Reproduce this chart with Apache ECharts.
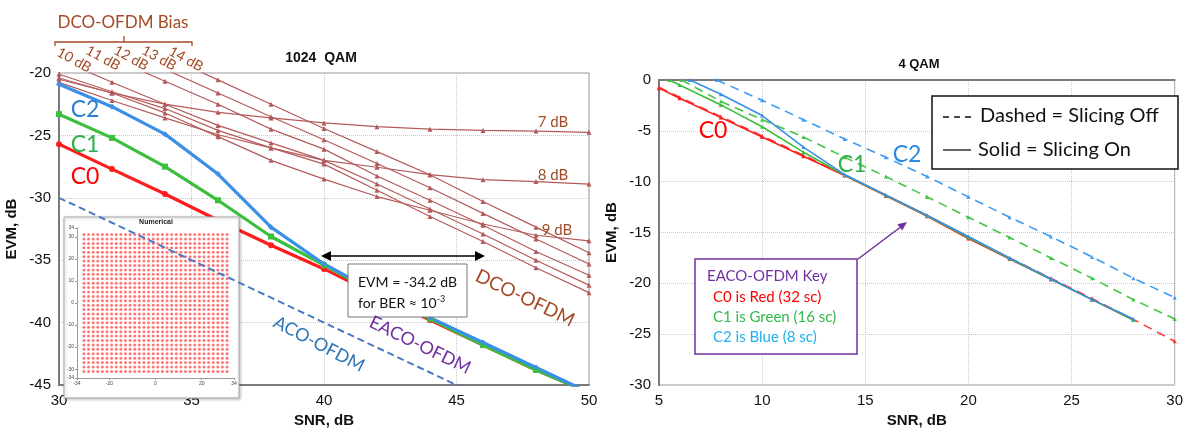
<!DOCTYPE html>
<html>
<head>
<meta charset="utf-8">
<script src="https://cdn.jsdelivr.net/npm/echarts@6/dist/echarts.min.js"></script>
<style>
html, body { margin: 0; padding: 0; background: #fff; }
#chart { width: 1186px; height: 433px; }
</style>
</head>
<body>
<div id="chart"></div>
<script>
// ---- left panel: 1024 QAM ----
const snrLeft = [30, 32, 34, 36, 38, 40, 42, 44, 46, 48, 50]
const eacoC0 = [-25.7, -27.7, -29.7, -31.8, -33.8, -35.7, -37.8, -39.8, -41.8, -43.8, -45.6]
const eacoC1 = [-23.3, -25.2, -27.5, -30.2, -33.1, -35.4, -37.7, -39.7, -41.8, -43.8, -45.6]
const eacoC2 = [-20.9, -22.7, -24.9, -28.1, -32.35, -35.3, -37.6, -39.6, -41.6, -43.6, -45.6]
const acoOfdm = [-30, -32, -34, -36, -38, -40, -42, -44, -46, -48, -50]
const dco7 = [-20.5, -21.6, -22.5, -23.15, -23.6, -24.0, -24.3, -24.5, -24.6, -24.65, -24.75]
const dco8 = [-20.75, -22.2, -23.6, -24.95, -26.0, -27.0, -27.55, -28.15, -28.55, -28.7, -28.9]
const dco9 = [-20.4, -21.6, -23.2, -25.1, -27.0, -28.5, -29.9, -31.0, -32.1, -33.0, -33.45]
const dco10 = [-20.1, -21.5, -22.85, -24.6, -26.0, -27.3, -29.4, -31.5, -33.5, -35.6, -37.6]
const dco11 = [-18.9, -20.74, -22.5, -24.2, -25.6, -27.0, -28.9, -30.9, -32.9, -35.0, -37.0]
const dco12 = [-17.0, -18.8, -20.66, -22.5, -24.5, -26.1, -28.25, -30.2, -32.2, -34.3, -36.2]
const dco13 = [-15.9, -17.8, -19.7, -21.6, -23.5, -25.35, -27.25, -29.2, -31.25, -33.3, -35.3]
const dco14 = [-14.8, -16.7, -18.6, -20.55, -22.5, -24.45, -26.3, -28.15, -30.3, -32.35, -34.4]
const biasLabels = ['10 dB', '11 dB', '12 dB', '13 dB', '14 dB']

// inset constellation levels (1024 QAM, 32 x 32)
const qamLevels = [-31, -29, -27, -25, -23, -21, -19, -17, -15, -13, -11, -9, -7, -5, -3, -1,
  1, 3, 5, 7, 9, 11, 13, 15, 17, 19, 21, 23, 25, 27, 29, 31]

// ---- right panel: 4 QAM ----
const c0Solid4 = [[5, -0.8], [6, -1.8], [8, -3.7], [10, -5.6], [12, -7.5], [14, -9.4], [16, -11.4], [18, -13.4], [20, -15.6], [22, -17.6], [24, -19.6], [26, -21.6], [28, -23.6]]
const c0Dash4 = [[5, -0.7], [6, -1.7], [8, -3.6], [10, -5.5], [12, -7.4], [14, -9.35], [16, -11.35], [18, -13.35], [20, -15.5], [22, -17.5], [24, -19.5], [26, -21.5], [28, -23.55], [30, -25.7]]
const c1Solid4 = [[5.5, 0], [6, -0.5], [8, -2.45], [10, -4.6], [12, -7.1], [14, -9.35], [16, -11.35], [18, -13.35], [20, -15.5], [22, -17.55], [24, -19.6], [26, -21.6], [28, -23.6]]
const c1Dash4 = [[6.1, 0], [8, -2.1], [10, -3.9], [12, -5.6], [14, -7.6], [16, -9.5], [18, -11.5], [20, -13.5], [22, -15.5], [24, -17.5], [26, -19.5], [28, -21.6], [30, -23.5]]
const c2Solid4 = [[6.5, 0], [8, -1.4], [10, -3.5], [12, -6.6], [14, -9.3], [16, -11.3], [18, -13.3], [20, -15.4], [22, -17.5], [24, -19.55], [26, -21.6], [28, -23.5]]
const c2Dash4 = [[7.8, 0], [10, -2.0], [12, -3.9], [14, -5.8], [16, -7.6], [18, -9.5], [20, -11.5], [22, -13.5], [24, -15.4], [26, -17.4], [28, -19.5], [30, -21.4]]

const RED = '#ff1c1c'
const GREEN = '#3cbf3c'
const BLUE = '#3a8fe6'
const BROWN_LINE = '#b45a5a'
const BROWN_TEXT = '#a34a26'
const PURPLE = '#7030a0'
const ARIAL = 'Liberation Sans, Arial, sans-serif'
const CAL = 'Lato, Noto Sans, sans-serif'

function pairs(xs, ys) {
  return xs.map((x, i) => [x, ys[i]])
}

let constellation = []
qamLevels.forEach(i => {
  qamLevels.forEach(q => constellation.push([i, q]))
})

function dcoSeries(name, ys) {
  return {
    name: name,
    type: 'line',
    xAxisIndex: 0,
    yAxisIndex: 0,
    data: pairs(snrLeft, ys),
    symbol: 'triangle',
    symbolSize: 5,
    lineStyle: { color: BROWN_LINE, width: 1.2 },
    itemStyle: { color: BROWN_LINE },
    z: 2,
    silent: true
  }
}

function eacoSeries(name, ys, color, symbol) {
  return {
    name: name,
    type: 'line',
    xAxisIndex: 0,
    yAxisIndex: 0,
    data: pairs(snrLeft, ys),
    symbol: symbol,
    symbolSize: 6,
    lineStyle: { color: color, width: 3.2 },
    itemStyle: { color: color },
    z: 3,
    silent: true
  }
}

function qamSeries(data, color, dashed) {
  return {
    type: 'line',
    xAxisIndex: 2,
    yAxisIndex: 2,
    data: data,
    symbol: 'triangle',
    symbolSize: 4,
    lineStyle: { color: color, width: 1.6, type: dashed ? [9, 6] : 'solid' },
    itemStyle: { color: color },
    z: dashed ? 2 : 3,
    silent: true
  }
}

const axisLineStyle = { show: true, lineStyle: { color: '#7a7a7a', width: 2 } }
const gridLineStyle = { show: true, lineStyle: { color: '#c8c8c8', type: 'dotted', width: 1 } }
const tickLabel = { color: '#111', fontSize: 15, fontFamily: ARIAL }
const axisName = { color: '#111', fontSize: 15, fontWeight: 'bold', fontFamily: ARIAL }

function txt(x, y, text, color, size, extra) {
  return Object.assign({
    type: 'text',
    x: x,
    y: y,
    z: 20,
    style: {
      text: text,
      fill: color,
      fontSize: size,
      fontFamily: CAL,
      textAlign: 'center',
      textVerticalAlign: 'middle'
    }
  }, extra || {})
}

function boldTxt(x, y, text, size) {
  return {
    type: 'text', x: x, y: y, z: 20,
    style: { text: text, fill: '#111', fontSize: size, fontWeight: 'bold', fontFamily: ARIAL, textAlign: 'center', textVerticalAlign: 'middle' }
  }
}

var myChart = echarts.init(document.getElementById('chart'))
myChart.setOption({
  animation: false,
  grid: [
    { left: 59, right: 597, top: 73, bottom: 36, show: true, borderColor: '#999', borderWidth: 1 },
    { left: 77, top: 228, width: 157, height: 150 },
    { left: 659, right: 2, top: 80, bottom: 37, show: true, borderColor: '#999', borderWidth: 1 }
  ],
  xAxis: [
    {
      gridIndex: 0, type: 'value', min: 30, max: 50, interval: 5,
      name: 'SNR, dB', nameLocation: 'middle', nameGap: 28, nameTextStyle: axisName,
      axisLine: axisLineStyle, axisTick: { show: false }, axisLabel: tickLabel, splitLine: gridLineStyle
    },
    {
      gridIndex: 1, type: 'value', min: -34, max: 34, z: 6,
      axisLine: { show: true, onZero: false, lineStyle: { color: '#999', width: 1 } },
      axisTick: { show: true, length: 2, customValues: [-34, -20, 0, 20, 34], lineStyle: { color: '#999' } },
      axisLabel: { fontSize: 5, color: '#444', margin: 3, customValues: [-34, -20, 0, 20, 34] },
      splitLine: { show: false }
    },
    {
      gridIndex: 2, type: 'value', min: 5, max: 30, interval: 5,
      name: 'SNR, dB', nameLocation: 'middle', nameGap: 28, nameTextStyle: axisName,
      axisLine: axisLineStyle, axisTick: { show: false }, axisLabel: tickLabel, splitLine: gridLineStyle
    }
  ],
  yAxis: [
    {
      gridIndex: 0, type: 'value', min: -45, max: -20, interval: 5,
      name: 'EVM, dB', nameLocation: 'middle', nameGap: 40, nameTextStyle: axisName,
      axisLine: axisLineStyle, axisTick: { show: false }, axisLabel: tickLabel, splitLine: gridLineStyle
    },
    {
      gridIndex: 1, type: 'value', min: -34, max: 34, z: 6,
      axisLine: { show: true, onZero: false, lineStyle: { color: '#999', width: 1 } },
      axisTick: { show: true, length: 2, customValues: [-34, -30, -20, -10, 0, 10, 20, 30, 34], lineStyle: { color: '#999' } },
      axisLabel: { fontSize: 5, color: '#444', margin: 3, customValues: [-34, -30, -20, -10, 0, 10, 20, 30, 34] },
      splitLine: { show: false }
    },
    {
      gridIndex: 2, type: 'value', min: -30, max: 0, interval: 5,
      name: 'EVM, dB', nameLocation: 'middle', nameGap: 40, nameTextStyle: axisName,
      axisLine: axisLineStyle, axisTick: { show: false }, axisLabel: tickLabel, splitLine: gridLineStyle
    }
  ],
  series: [
    dcoSeries('7 dB', dco7),
    dcoSeries('8 dB', dco8),
    dcoSeries('9 dB', dco9),
    dcoSeries('10 dB', dco10),
    dcoSeries('11 dB', dco11),
    dcoSeries('12 dB', dco12),
    dcoSeries('13 dB', dco13),
    dcoSeries('14 dB', dco14),
    eacoSeries('C0', eacoC0, RED, 'circle'),
    eacoSeries('C1', eacoC1, GREEN, 'rect'),
    eacoSeries('C2', eacoC2, BLUE, 'diamond'),
    {
      name: 'Numerical',
      type: 'scatter',
      xAxisIndex: 1,
      yAxisIndex: 1,
      data: constellation,
      symbol: 'circle',
      symbolSize: 3,
      itemStyle: { color: '#ff3030', opacity: 0.65 },
      z: 5,
      silent: true
    },
    {
      name: 'ACO-OFDM',
      type: 'line',
      xAxisIndex: 0,
      yAxisIndex: 0,
      data: pairs(snrLeft, acoOfdm),
      symbol: 'none',
      lineStyle: { color: '#4a78c2', width: 2, type: [7, 4] },
      z: 7,
      silent: true
    },
    qamSeries(c2Dash4, '#3f9cf2', true),
    qamSeries(c1Dash4, '#45c545', true),
    qamSeries(c0Dash4, '#ff3b3b', true),
    qamSeries(c0Solid4, RED, false),
    qamSeries(c1Solid4, GREEN, false),
    qamSeries(c2Solid4, BLUE, false)
  ],
  graphic: {
    elements: [
      // titles
      boldTxt(321, 58, '1024  QAM', 14),
      boldTxt(919, 64, '4 QAM', 13),
      // DCO-OFDM bias bracket
      txt(123, 23, 'DCO-OFDM Bias', BROWN_TEXT, 17),
      {
        type: 'polyline', z: 20,
        shape: { points: [[55, 46], [55, 42], [192, 42], [192, 46]] },
        style: { stroke: BROWN_TEXT, lineWidth: 1.3, fill: null }
      },
      { type: 'line', z: 20, shape: { x1: 124, y1: 42, x2: 124, y2: 36 }, style: { stroke: BROWN_TEXT, lineWidth: 1.3 } },
      txt(74, 60, biasLabels[0], BROWN_TEXT, 14, { rotation: -0.5 }),
      txt(103, 58, biasLabels[1], BROWN_TEXT, 14, { rotation: -0.5 }),
      txt(131, 58, biasLabels[2], BROWN_TEXT, 14, { rotation: -0.5 }),
      txt(159, 58, biasLabels[3], BROWN_TEXT, 14, { rotation: -0.5 }),
      txt(186, 59, biasLabels[4], BROWN_TEXT, 14, { rotation: -0.5 }),
      txt(553, 122, '7 dB', BROWN_TEXT, 15),
      txt(553, 175, '8 dB', BROWN_TEXT, 15),
      txt(557, 230, '9 dB', BROWN_TEXT, 15),
      txt(525, 298, 'DCO-OFDM', BROWN_TEXT, 19, { rotation: -0.45 }),
      txt(420, 345, 'EACO-OFDM', PURPLE, 18, { rotation: -0.45 }),
      txt(319, 344, 'ACO-OFDM', '#2e75b6', 18, { rotation: -0.48 }),
      // curve labels left
      txt(85, 110, 'C2', '#2a7fd0', 23),
      txt(85, 145, 'C1', '#2db04a', 23),
      txt(85, 177, 'C0', '#ff0000', 23),
      // inset background
      {
        type: 'rect', z: 4,
        shape: { x: 64, y: 217, width: 175, height: 181 },
        style: { fill: '#fff', stroke: '#aaa', lineWidth: 1, shadowBlur: 3, shadowColor: 'rgba(0,0,0,0.25)', shadowOffsetX: 1, shadowOffsetY: 1 }
      },
      {
        type: 'text', x: 156, y: 222, z: 20,
        style: { text: 'Numerical', fill: '#222', fontSize: 7, fontWeight: 'bold', fontFamily: ARIAL, textAlign: 'center', textVerticalAlign: 'middle' }
      },
      // BER annotation
      { type: 'line', z: 20, shape: { x1: 328, y1: 256, x2: 478, y2: 256 }, style: { stroke: '#000', lineWidth: 1.5 } },
      { type: 'polygon', z: 20, shape: { points: [[321, 256], [331, 251], [331, 261]] }, style: { fill: '#000' } },
      { type: 'polygon', z: 20, shape: { points: [[485, 256], [475, 251], [475, 261]] }, style: { fill: '#000' } },
      {
        type: 'rect', z: 19,
        shape: { x: 348, y: 264, width: 119, height: 53 },
        style: { fill: '#fff', stroke: '#777', lineWidth: 1 }
      },
      {
        type: 'text', z: 21, x: 358, y: 282,
        style: { text: 'EVM = -34.2 dB', fill: '#111', fontSize: 14, fontFamily: CAL, textVerticalAlign: 'middle' }
      },
      {
        type: 'text', z: 21, x: 358, y: 303,
        style: {
          text: 'for BER ≈ 10{sup|-3}',
          fill: '#111', fontSize: 14, fontFamily: CAL, textVerticalAlign: 'middle',
          rich: { sup: { fontSize: 9, fontFamily: CAL, fill: '#111', verticalAlign: 'top', padding: [0, 0, 8, 0] } }
        }
      },
      // right panel curve labels
      txt(713, 131, 'C0', '#ff0000', 23),
      txt(852, 165, 'C1', '#2db04a', 23),
      txt(907, 155, 'C2', '#2a8ae0', 23),
      // slicing legend box
      {
        type: 'rect', z: 19,
        shape: { x: 932, y: 96, width: 246, height: 73 },
        style: { fill: '#fff', stroke: '#111', lineWidth: 1.5 }
      },
      { type: 'line', z: 20, shape: { x1: 943, y1: 117, x2: 973, y2: 117 }, style: { stroke: '#111', lineWidth: 1.3, lineDash: [6, 5] } },
      { type: 'line', z: 20, shape: { x1: 943, y1: 150, x2: 971, y2: 150 }, style: { stroke: '#111', lineWidth: 1.3 } },
      {
        type: 'text', z: 21, x: 980, y: 116,
        style: { text: 'Dashed = Slicing Off', fill: '#111', fontSize: 20, fontFamily: CAL, textVerticalAlign: 'middle' }
      },
      {
        type: 'text', z: 21, x: 978, y: 150,
        style: { text: 'Solid = Slicing On', fill: '#111', fontSize: 20, fontFamily: CAL, textVerticalAlign: 'middle' }
      },
      // EACO-OFDM key box and arrow
      { type: 'line', z: 20, shape: { x1: 858, y1: 259, x2: 900, y2: 227.5 }, style: { stroke: PURPLE, lineWidth: 1.5 } },
      { type: 'polygon', z: 20, shape: { points: [[907, 222], [902.2, 230.6], [897.4, 224.2]] }, style: { fill: PURPLE } },
      {
        type: 'rect', z: 19,
        shape: { x: 695, y: 259, width: 162, height: 95 },
        style: { fill: '#fff', stroke: PURPLE, lineWidth: 1.5 }
      },
      {
        type: 'text', z: 21, x: 707, y: 276,
        style: { text: 'EACO-OFDM Key', fill: PURPLE, fontSize: 15, fontFamily: CAL, textVerticalAlign: 'middle' }
      },
      {
        type: 'text', z: 21, x: 713, y: 297,
        style: { text: 'C0 is Red (32 sc)', fill: '#ff0000', fontSize: 15, fontFamily: CAL, textVerticalAlign: 'middle' }
      },
      {
        type: 'text', z: 21, x: 713, y: 317,
        style: { text: 'C1 is Green (16 sc)', fill: '#33b84a', fontSize: 15, fontFamily: CAL, textVerticalAlign: 'middle' }
      },
      {
        type: 'text', z: 21, x: 713, y: 337,
        style: { text: 'C2 is Blue (8 sc)', fill: '#1fb0f0', fontSize: 15, fontFamily: CAL, textVerticalAlign: 'middle' }
      }
    ]
  }
})
</script>
</body>
</html>
